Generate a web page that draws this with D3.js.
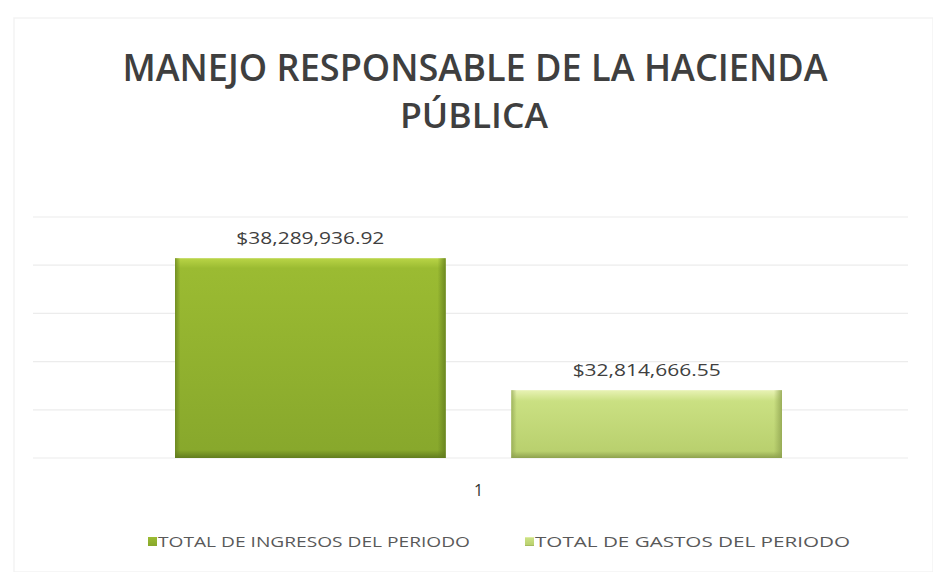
<!DOCTYPE html>
<html>
<head>
<meta charset="utf-8">
<script src="https://cdn.jsdelivr.net/npm/d3@7"></script>
<style>
  html, body { margin: 0; padding: 0; background: #ffffff; }
  svg { display: block; }
</style>
</head>
<body>
<script>
// ---- data ----
const titleLines = ["MANEJO RESPONSABLE DE LA HACIENDA", "PÚBLICA"];
const categories = ["1"];
const seriesNames = ["TOTAL DE INGRESOS DEL PERIODO", "TOTAL DE GASTOS DEL PERIODO"];
const seriesValues = [38289936.92, 32814666.55];
const yTicks = [30000000, 32000000, 34000000, 36000000, 38000000, 40000000];

// ---- layout ----
const W = 933, H = 572;
const svg = d3.select("body").append("svg").attr("width", W).attr("height", H);

const defs = svg.append("defs");
const palettes = [
  { top: "#b9d446", mid: "#9bbb32", bot: "#88a82c", edge: "#617c1e" },
  { top: "#e8f2b4", mid: "#cae082", bot: "#b9d06e", edge: "#8ea24f" }
];
palettes.forEach((p, i) => {
  const g = defs.append("linearGradient").attr("id", "gv" + i)
    .attr("x1", 0).attr("y1", 0).attr("x2", 0).attr("y2", 1);
  g.append("stop").attr("offset", "0%").attr("stop-color", p.top);
  g.append("stop").attr("offset", i === 0 ? "5%" : "16%").attr("stop-color", p.mid);
  g.append("stop").attr("offset", i === 0 ? "96%" : "90%").attr("stop-color", p.bot);
  g.append("stop").attr("offset", "100%").attr("stop-color", p.edge);
  const h = defs.append("linearGradient").attr("id", "gh" + i)
    .attr("x1", 0).attr("y1", 0).attr("x2", 1).attr("y2", 0);
  h.append("stop").attr("offset", "0%").attr("stop-color", p.edge).attr("stop-opacity", 0.7);
  h.append("stop").attr("offset", "2%").attr("stop-color", p.edge).attr("stop-opacity", 0);
  h.append("stop").attr("offset", "97%").attr("stop-color", p.edge).attr("stop-opacity", 0);
  h.append("stop").attr("offset", "100%").attr("stop-color", p.edge).attr("stop-opacity", 0.8);
});

// faint chart frame
svg.append("rect").attr("x", 14).attr("y", 18).attr("width", W - 14).attr("height", H - 18)
  .attr("fill", "none").attr("stroke", "#f3f3f3").attr("stroke-width", 1.5);

// title
svg.append("text").attr("x", 475).attr("y", 81).attr("text-anchor", "middle")
  .attr("font-family", "Open Sans, sans-serif").attr("font-weight", 600)
  .attr("font-size", 37).attr("fill", "#3f3f3f")
  .attr("textLength", 705).attr("lengthAdjust", "spacingAndGlyphs")
  .text(titleLines[0]);
svg.append("text").attr("x", 474).attr("y", 128).attr("text-anchor", "middle")
  .attr("font-family", "Open Sans, sans-serif").attr("font-weight", 600)
  .attr("font-size", 35).attr("fill", "#3f3f3f")
  .attr("textLength", 148).attr("lengthAdjust", "spacingAndGlyphs")
  .text(titleLines[1]);

// scales
const y = d3.scaleLinear().domain([30000000, 40000000]).range([458, 217]);
const xCat = d3.scaleBand().domain(categories).range([175, 782]);
const xSer = d3.scaleBand().domain(seriesNames).range([0, xCat.bandwidth()]).paddingInner(0.195);

// gridlines
svg.append("g").selectAll("line").data(yTicks).join("line")
  .attr("x1", 33).attr("x2", 908)
  .attr("y1", d => y(d)).attr("y2", d => y(d))
  .attr("stroke", "#ececec").attr("stroke-width", 1.2);

// bars
const data = seriesNames.map((s, i) => ({ cat: categories[0], name: s, value: seriesValues[i], i }));
const gBars = svg.append("g");
gBars.selectAll("rect.bar").data(data).join("rect").attr("class", "bar")
  .attr("x", d => xCat(d.cat) + xSer(d.name))
  .attr("y", d => y(d.value))
  .attr("width", xSer.bandwidth())
  .attr("height", d => y.range()[0] - y(d.value))
  .attr("fill", d => `url(#gv${d.i})`);
gBars.selectAll("rect.edge").data(data).join("rect").attr("class", "edge")
  .attr("x", d => xCat(d.cat) + xSer(d.name))
  .attr("y", d => y(d.value))
  .attr("width", xSer.bandwidth())
  .attr("height", d => y.range()[0] - y(d.value))
  .attr("fill", d => `url(#gh${d.i})`);

// data labels
const fmt = d3.format("$,.2f");
svg.append("g").selectAll("text").data(data).join("text")
  .attr("x", d => xCat(d.cat) + xSer(d.name) + xSer.bandwidth() / 2)
  .attr("y", d => y(d.value) - 14)
  .attr("text-anchor", "middle")
  .attr("font-family", "Open Sans, sans-serif").attr("font-size", 16)
  .attr("fill", "#404040")
  .attr("textLength", 148).attr("lengthAdjust", "spacingAndGlyphs")
  .text(d => fmt(d.value));

// category axis label
svg.append("g").selectAll("text").data(categories).join("text")
  .attr("x", d => xCat(d) + xCat.bandwidth() / 2)
  .attr("y", 496)
  .attr("text-anchor", "middle")
  .attr("font-family", "Open Sans, sans-serif").attr("font-size", 16)
  .attr("fill", "#333333")
  .text(d => d);

// legend
const legendX = [148, 525];
const legendW = [312, 315];
const lg = svg.append("g").selectAll("g").data(seriesNames).join("g")
  .attr("transform", (d, i) => `translate(${legendX[i]},0)`);
lg.append("rect").attr("x", 0).attr("y", 537).attr("width", 9).attr("height", 9)
  .attr("fill", (d, i) => `url(#gv${i})`);
lg.append("text").attr("x", 10).attr("y", 547)
  .attr("font-family", "Open Sans, sans-serif").attr("font-size", 15)
  .attr("fill", "#595959")
  .attr("textLength", (d, i) => legendW[i]).attr("lengthAdjust", "spacingAndGlyphs")
  .text(d => d);
</script>
</body>
</html>
